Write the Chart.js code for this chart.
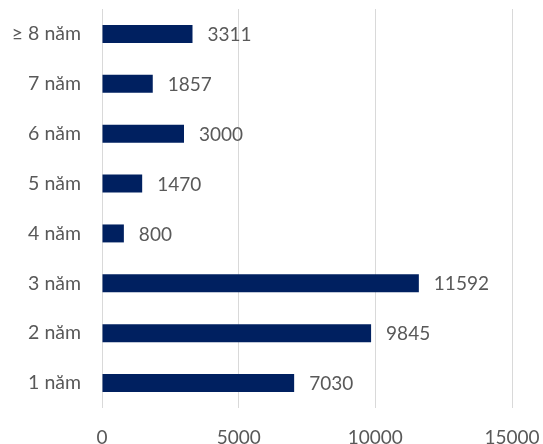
<!DOCTYPE html>
<html><head><meta charset="utf-8">
<style>html,body{margin:0;padding:0;background:#fff}#w{width:543px;height:444px}</style>
<script src="https://cdn.jsdelivr.net/npm/chart.js@4/dist/chart.umd.min.js"></script>
</head><body><div id="w"><canvas id="c" width="543" height="444"></canvas></div>
<script>
const categories = ["≥ 8 năm","7 năm","6 năm","5 năm","4 năm","3 năm","2 năm","1 năm"];
const values = [3311,1857,3000,1470,800,11592,9845,7030];
const xTicks = [0,5000,10000,15000];
const FONT = "Lato";
const TXT = "#595959";
function zeroPad(s){ s.paddingLeft = 0; s.paddingRight = 0; s.paddingTop = 0; s.paddingBottom = 0; }
const labelPlugin = {
  id: 'barLabels',
  afterDatasetsDraw(chart) {
    const ctx = chart.ctx;
    const meta = chart.getDatasetMeta(0);
    ctx.save();
    ctx.font = `19px ${FONT}`;
    ctx.fillStyle = TXT;
    ctx.textAlign = 'left';
    ctx.textBaseline = 'middle';
    meta.data.forEach((el, i) => { ctx.fillText(String(values[i]), el.x + 15, el.y + 1); });
    ctx.restore();
  }
};
new Chart(document.getElementById('c'), {
  type: 'bar',
  data: { labels: categories, datasets: [{ data: values, backgroundColor: '#002060', borderWidth: 0, barPercentage: 0.36, categoryPercentage: 1 }] },
  options: {
    indexAxis: 'y', responsive: false, animation: false,
    layout: { autoPadding: false, padding: { top: 9, right: 31, left: 0, bottom: 0 } },
    plugins: { legend: { display: false }, tooltip: { enabled: false } },
    scales: {
      x: { min: 0, max: 15000,
        afterBuildTicks(s) { s.ticks = xTicks.map(v => ({ value: v })); },
        afterFit(s) { s.height = 36; zeroPad(s); },
        grid: { color: '#d9d9d9', drawTicks: false }, border: { display: false },
        ticks: { color: TXT, font: { family: FONT, size: 19 }, padding: 18, maxRotation: 0, callback: v => String(v) } },
      y: { afterFit(s) { s.width = 102; zeroPad(s); },
        grid: { display: false, drawTicks: false }, border: { display: false },
        ticks: { color: TXT, font: { family: FONT, size: 19.5 }, padding: 21 } }
    }
  },
  plugins: [labelPlugin]
});
</script></body></html>
